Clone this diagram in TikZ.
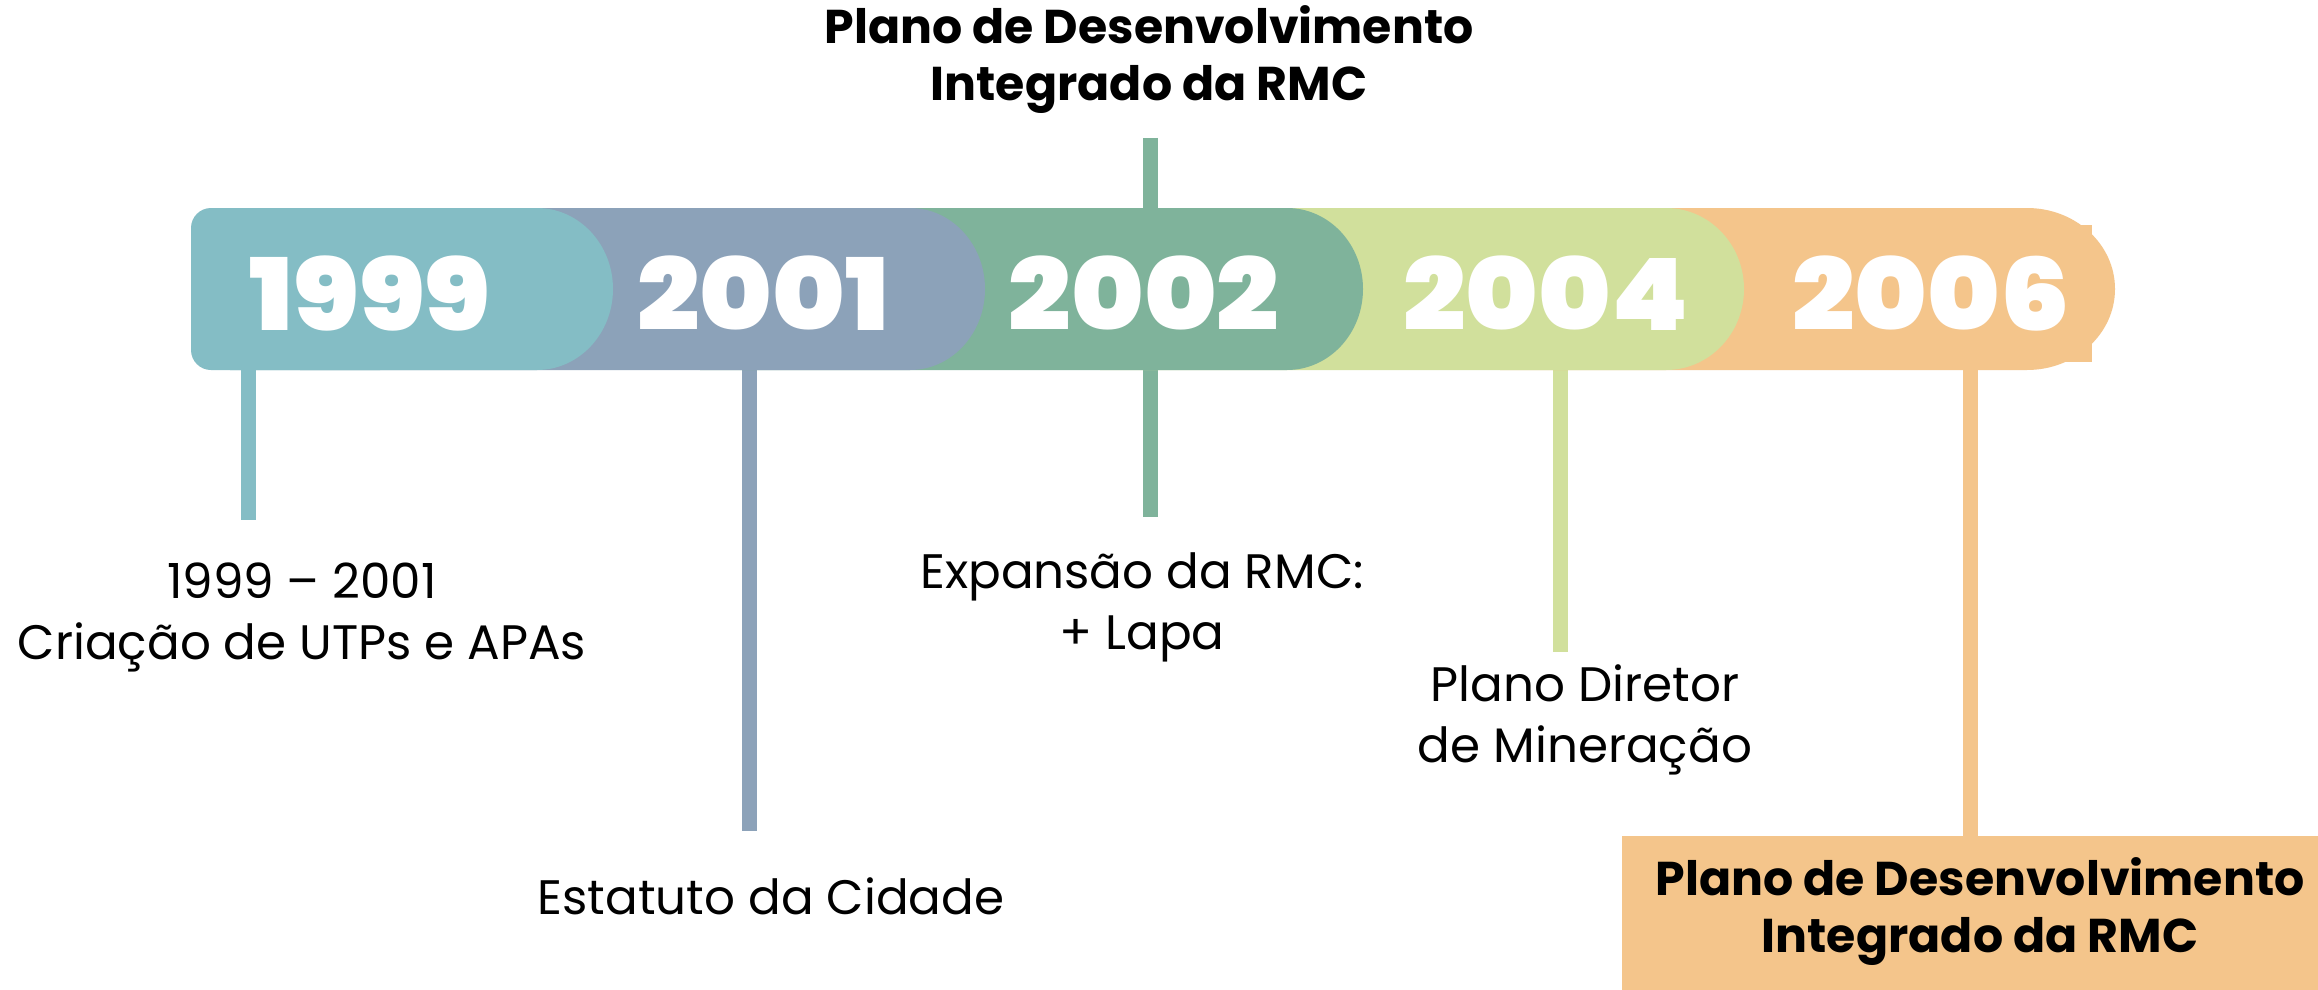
\documentclass[tikz,border=0pt]{standalone}
\usepackage{fontspec}
\setmainfont{Poppins}
\newfontfamily\yearfont{Poppins Black}
\definecolor{cA}{HTML}{84BDC5}
\definecolor{cB}{HTML}{8CA2B9}
\definecolor{cC}{HTML}{7FB39B}
\definecolor{cD}{HTML}{D1E09C}
\definecolor{cE}{HTML}{F4C58B}
\begin{document}
\begin{tikzpicture}[x=0.5pt,y=0.5pt,
  year/.style={text=white,font=\yearfont\fontsize{50}{50}\selectfont,inner sep=0pt},
  lbl/.style={text=black,align=center,font=\fontsize{24.2}{30.5}\selectfont,inner sep=0pt},
  title/.style={text=black,align=center,font=\bfseries\fontsize{23.7}{28.5}\selectfont,inner sep=0pt},
  stem/.style={line width=7.5pt}]
\useasboundingbox[fill=white] (0,0) rectangle (2318,-990);
% stems
\coordinate (s1a) at (248,-370); \coordinate (s1b) at (248,-520);
\coordinate (s2a) at (749,-370); \coordinate (s2b) at (749,-831);
\coordinate (s3t) at (1150,-138); \coordinate (s3a) at (1150,-370); \coordinate (s3b) at (1150,-517);
\coordinate (s4a) at (1560,-370); \coordinate (s4b) at (1560,-652);
\coordinate (s5a) at (1970,-370); \coordinate (s5b) at (1970,-836);
\draw[stem,cA] (s1a) -- (s1b);
\draw[stem,cB] (s2a) -- (s2b);
\draw[stem,cC] (s3t) -- (s3b);
\draw[stem,cD] (s4a) -- (s4b);
\draw[stem,cE] (s5a) -- (s5b);
% segments (back to front)
\fill[cE] (2000,-225) rectangle (2092,-362);
\fill[cE] (1500,-208) -- (2027,-208) arc[start angle=90,end angle=-90,x radius=88,y radius=81] -- (1500,-370) -- cycle;
\fill[cD] (1100,-208) -- (1666,-208) arc[start angle=90,end angle=-90,x radius=78,y radius=81] -- (1100,-370) -- cycle;
\fill[cC] (700,-208) -- (1287,-208) arc[start angle=90,end angle=-90,x radius=76,y radius=81] -- (700,-370) -- cycle;
\fill[cB] (300,-208) -- (910,-208) arc[start angle=90,end angle=-90,x radius=75,y radius=81] -- (300,-370) -- cycle;
\fill[cA,rounded corners=10pt] (191,-208) rectangle (400,-370);
\fill[cA] (230,-208) -- (537,-208) arc[start angle=90,end angle=-90,x radius=76,y radius=81] -- (230,-370) -- cycle;
% years
\node[year] (y1) at (370,-293) {\scalebox{1.1}[1]{1999}};
\node[year] (y2) at (763,-293) {\scalebox{1.1}[1]{2001}};
\node[year] (y3) at (1144,-293) {\scalebox{1.1}[1]{2002}};
\node[year] (y4) at (1546,-293) {\scalebox{1.1}[1]{2004}};
\node[year] (y5) at (1931,-293) {\scalebox{1.1}[1]{2006}};
% labels
\node[title] (top) at (1149,-60) {Plano de Desenvolvimento\\Integrado da RMC};
\node[lbl] (l1) at (302,-617) {1999 – 2001\\Criação de UTPs e APAs};
\node[lbl] (l2) at (771,-896) {Estatuto da Cidade};
\node[lbl] (l3) at (1142,-607) {Expansão da RMC:\\+ Lapa};
\node[lbl] (l4) at (1585,-720) {Plano Diretor\\de Mineração};
\fill[cE] (1622,-836) rectangle (2318,-990);
\node[title] (bot) at (1980,-912) {Plano de Desenvolvimento\\Integrado da RMC};
\end{tikzpicture}
\end{document}
